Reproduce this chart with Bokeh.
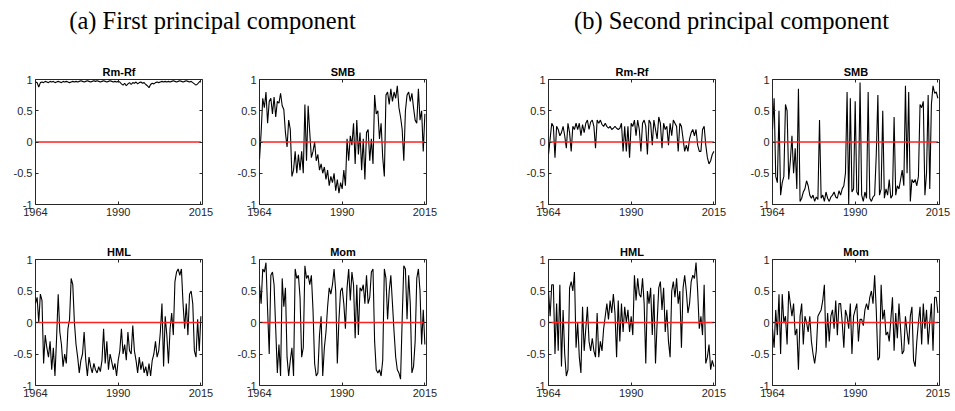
import numpy as np
from bokeh.plotting import figure
from bokeh.layouts import row, column
from bokeh.models import FixedTicker, LinearAxis, Range1d
from bokeh.embed import file_html
from bokeh.resources import INLINE
from bokeh.core.properties import value

# ---------------------------------------------------------------------------
# Factor loadings of the first two principal components, half-yearly samples
# from 1964 to 2015.
# ---------------------------------------------------------------------------
start_year = 1964.0
step_years = 0.5

factor_names = ["Rm-Rf", "SMB", "HML", "Mom"]
headings = ["(a) First principal component", "(b) Second principal component"]
x_tick_labels = ["1964", "1990", "2015"]
y_ticks = [-1, -0.5, 0, 0.5, 1]
y_tick_labels = ["-1", "-0.5", "0", "0.5", "1"]

pc1_rmrf = [
    0.96, 0.95, 0.88, 0.95, 0.96, 0.95, 0.97, 0.96, 0.95, 0.97,
    0.96, 0.97, 0.95, 0.96, 0.97, 0.96, 0.95, 0.97, 0.96, 0.97,
    0.96, 0.95, 0.96, 0.97, 0.96, 0.97, 0.96, 0.97, 0.98, 0.97,
    0.96, 0.97, 0.98, 0.97, 0.96, 0.97, 0.98, 0.97, 0.98, 0.97,
    0.96, 0.97, 0.98, 0.97, 0.96, 0.97, 0.98, 0.97, 0.96, 0.97,
    0.96, 0.97, 0.96, 0.93, 0.91, 0.94, 0.90, 0.93, 0.95, 0.92,
    0.95, 0.94, 0.96, 0.93, 0.95, 0.96, 0.94, 0.95, 0.92, 0.90,
    0.87, 0.92, 0.94, 0.93, 0.95, 0.96, 0.95, 0.96, 0.97, 0.96,
    0.97, 0.96, 0.97, 0.96, 0.97, 0.98, 0.97, 0.96, 0.97, 0.98,
    0.97, 0.96, 0.97, 0.98, 0.97, 0.96, 0.97, 0.95, 0.93, 0.91,
    0.93, 0.96, 0.98,
]

pc1_smb = [
    -0.28, 0.15, 0.70, 0.55, 0.80, 0.30, 0.65, 0.70, 0.45, 0.72,
    0.40, 0.65, 0.62, 0.78, 0.58, 0.52, 0.15, -0.08, 0.35, 0.20,
    -0.55, -0.45, -0.15, -0.50, -0.20, -0.45, -0.15, -0.50, 0.60, -0.30,
    0.58, 0.15, -0.25, -0.15, 0.00, -0.30, -0.20, -0.45, -0.35, -0.50,
    -0.40, -0.60, -0.45, -0.70, -0.55, -0.65, -0.50, -0.78, -0.60, -0.82,
    -0.65, -0.75, -0.45, -0.70, 0.05, -0.30, 0.10, -0.05, 0.30, -0.35,
    0.35, -0.20, 0.15, -0.45, 0.05, -0.60, 0.15, 0.20, -0.30, 0.05,
    -0.35, 0.75, 0.45, 0.50, 0.05, 0.30, -0.25, -0.55, 0.75, 0.80,
    0.60, 0.85, 0.65, 0.80, 0.70, 0.90, 0.55, 0.40, 0.20, -0.30,
    0.50, 0.75, 0.80, 0.65, 0.78, 0.55, 0.35, 0.30, 0.85, 0.35,
    0.50, -0.15, 0.45,
]

pc1_hml = [
    0.30, 0.40, 0.00, 0.45, 0.35, -0.65, -0.20, -0.40, -0.55, -0.30,
    -0.75, -0.40, -0.85, -0.25, 0.45, -0.15, -0.35, -0.70, -0.50, -0.65,
    -0.10, 0.05, 0.70, 0.60, 0.00, -0.35, -0.55, -0.80, -0.60, -0.50,
    -0.15, -0.60, -0.85, -0.55, -0.70, -0.80, -0.65, -0.75, -0.80, -0.70,
    -0.78, -0.60, -0.10, -0.65, -0.30, -0.75, -0.50, -0.62, -0.75, -0.65,
    -0.85, -0.60, -0.45, -0.10, -0.50, -0.35, -0.60, -0.15, -0.45, -0.50,
    -0.05, -0.45, -0.60, -0.80, -0.55, -0.75, -0.62, -0.80, -0.70, -0.85,
    -0.65, -0.85, -0.60, -0.50, -0.30, -0.55, -0.45, -0.15, 0.30, -0.70,
    0.10, -0.20, -0.65, -0.10, 0.15, -0.20, 0.65, 0.80, 0.85, 0.75,
    0.85, 0.30, -0.10, 0.30, -0.20, 0.45, 0.50, 0.30, -0.45, -0.55,
    0.05, -0.45, 0.10,
]

pc1_mom = [
    0.60, 0.30, 0.85, 0.80, 0.95, 0.20, -0.50, 0.75, 0.80, 0.60,
    -0.10, -0.80, -0.35, -0.85, 0.70, 0.25, 0.55, -0.55, -0.85, -0.60,
    -0.40, -0.85, 0.85, 0.70, 0.75, 0.40, -0.55, -0.40, 0.90, 0.70,
    0.75, 0.60, 0.75, 0.20, -0.65, -0.85, -0.80, -0.20, 0.10, -0.85,
    -0.40, -0.15, 0.25, 0.55, 0.45, 0.60, 0.85, 0.50, -0.65, 0.05,
    0.50, 0.55, 0.30, -0.10, 0.55, 0.85, 0.35, 0.80, 0.60, -0.25,
    0.60, -0.20, 0.55, 0.50, 0.60, 0.30, 0.75, 0.30, 0.40, 0.80,
    0.85, -0.30, -0.75, -0.80, -0.75, -0.85, -0.60, 0.85, 0.70, 0.05,
    0.50, 0.75, 0.30, -0.15, -0.55, -0.75, -0.80, -0.90, 0.05, 0.90,
    0.85, 0.05, 0.75, 0.30, -0.80, -0.70, -0.30, 0.70, 0.85, 0.50,
    -0.35, 0.20, -0.35,
]

pc2_rmrf = [
    -0.20, 0.05, 0.30, 0.25, -0.25, 0.25, 0.20, 0.10, 0.15, 0.25,
    0.10, -0.10, 0.30, 0.15, -0.15, 0.25, 0.20, 0.30, 0.20, 0.30,
    0.10, 0.28, 0.15, 0.30, 0.35, 0.20, 0.32, 0.35, 0.25, -0.10,
    0.35, 0.30, 0.35, 0.28, 0.25, 0.30, 0.25, 0.22, 0.25, 0.20,
    0.22, 0.25, 0.22, 0.20, 0.22, 0.30, -0.15, 0.25, -0.15, 0.25,
    -0.25, 0.30, 0.25, 0.35, 0.10, 0.35, 0.20, -0.15, 0.30, 0.35,
    0.25, -0.20, 0.35, 0.30, -0.05, 0.35, 0.20, 0.05, 0.40, 0.30,
    -0.10, 0.30, 0.20, 0.25, -0.05, 0.30, 0.10, 0.35, 0.30, 0.25,
    -0.15, 0.30, 0.25, 0.05, -0.15, -0.05, -0.15, 0.05, 0.15, 0.20,
    0.10, 0.20, -0.05, -0.15, -0.15, 0.20, 0.25, -0.05, -0.25, -0.35,
    -0.30, -0.20, -0.15,
]

pc2_smb = [
    0.20, 0.70, -0.55, -0.65, 0.50, -0.85, -0.65, -0.55, 0.60, 0.50,
    -0.60, -0.30, 0.10, -0.50, -0.10, -0.75, 0.85, -0.95, -0.90, -0.80,
    -0.75, -0.62, -0.70, -0.85, -0.90, -0.85, -0.95, -0.88, -0.92, 0.35,
    -0.90, -0.85, -0.95, -0.80, -0.90, -0.95, -0.88, -0.85, -0.80, -0.88,
    -0.90, -0.78, -0.85, -0.75, -0.70, -0.50, 0.80, -1.00, 0.70, -0.80,
    -0.75, 0.65, -0.80, -0.85, 0.95, -0.85, -0.95, -0.80, -0.90, 0.80,
    -0.90, -0.95, -0.88, -0.85, -0.20, 0.75, -0.85, -0.75, 0.50, -0.90,
    -0.75, -0.85, -0.60, -0.90, -0.85, 0.40, -0.85, -0.70, -0.75, -0.60,
    -0.45, -0.70, 0.90, -0.50, 0.80, -0.95, -0.60, -0.65, -0.60, -0.70,
    -0.55, 0.60, 0.55, 0.65, -0.85, -0.50, 0.75, -0.75, 0.60, 0.90,
    0.78, 0.80, 0.70,
]

pc2_hml = [
    0.50, 0.10, 0.60, 0.60, -0.50, 0.30, -0.45, 0.60, -0.70, 0.20,
    -0.50, -0.85, -0.75, 0.55, 0.65, 0.50, 0.80, -0.40, 0.00, -0.55,
    -0.80, 0.25, -0.45, -0.10, 0.25, -0.30, -0.45, -0.25, -0.45, -0.55,
    0.15, -0.55, -0.30, -0.45, -0.10, 0.10, 0.30, 0.05, 0.35, 0.15,
    0.45, 0.15, -0.55, 0.35, -0.30, 0.30, -0.15, 0.25, 0.00, 0.20,
    -0.15, 0.10, -0.20, 0.75, 0.35, 0.70, 0.45, 0.40, 0.70, 0.30,
    -0.65, 0.50, 0.30, 0.55, -0.20, 0.45, -0.65, 0.00, 0.55, 0.65,
    0.20, 0.55, -0.15, 0.20, -0.30, -0.55, 0.50, 0.65, 0.40, 0.70,
    0.30, 0.50, -0.40, 0.55, 0.75, 0.50, 0.15, 0.30, 0.65, 0.75,
    0.70, 0.95, 0.50, -0.10, 0.10, -0.20, 0.60, -0.65, -0.55, -0.35,
    -0.75, -0.60, -0.70,
]

pc2_mom = [
    -0.10, -0.40, 0.20, -0.20, 0.45, -0.50, 0.45, 0.00, 0.10, -0.35,
    0.50, 0.30, 0.10, 0.30, -0.20, -0.10, -0.75, 0.10, 0.30, -0.35,
    0.10, 0.00, -0.15, 0.10, -0.30, -0.50, -0.65, -0.45, 0.10, 0.15,
    0.20, 0.35, 0.60, -0.40, 0.15, -0.30, 0.10, 0.20, -0.10, 0.35,
    -0.20, 0.30, 0.30, 0.00, -0.40, 0.20, 0.10, -0.10, 0.30, -0.50,
    0.10, 0.20, 0.30, -0.30, 0.05, 0.05, -0.05, 0.20, 0.30, 0.20,
    0.40, 0.50, 0.30, 0.75, 0.20, -0.60, -0.55, 0.60, 0.05, 0.20,
    -0.20, -0.15, -0.30, 0.05, 0.40, -0.45, 0.15, -0.25, 0.30, -0.10,
    -0.50, -0.45, 0.10, -0.15, -0.35, 0.10, 0.25, -0.60, -0.70, -0.30,
    0.00, 0.25, -0.35, 0.30, -0.10, 0.20, -0.35, 0.00, 0.30, -0.45,
    0.40, 0.40, 0.15,
]

groups = [
    [pc1_rmrf, pc1_smb, pc1_hml, pc1_mom],
    [pc2_rmrf, pc2_smb, pc2_hml, pc2_mom],
]

n_obs = len(pc1_rmrf)
dates = start_year + step_years * np.arange(n_obs)
x_ticks = [float(dates[0]), float(dates[(n_obs - 1) // 2]), float(dates[-1])]

# Page geometry: four columns of panels, two rows.
col_border_left = [35, 35, 68, 36]
col_border_right = [22, 54, 21, 16]
frame_w = 167
row_frame_h = [125, 126]
border_top = 29
border_bottom = 26

AX_COLOR = "#262626"
SANS = "Liberation Sans"


def style_axis(ax, ticks, labels=None):
    ax.ticker = FixedTicker(ticks=ticks)
    ax.axis_line_color = None
    ax.major_tick_line_color = AX_COLOR
    ax.major_tick_in = 3
    ax.major_tick_out = 0
    ax.minor_tick_line_color = None
    if labels is None:
        # tick marks only: labels are not painted
        ax.major_label_text_color = None
        ax.major_label_text_font_size = "1px"
        ax.major_label_standoff = 0
    else:
        ax.major_label_overrides = dict(zip(ticks, labels))
        ax.major_label_text_font = SANS
        ax.major_label_text_font_size = "11px"
        ax.major_label_text_color = AX_COLOR
        ax.major_label_standoff = 3


def make_panel(values, title, col, r):
    w = col_border_left[col] + frame_w + col_border_right[col]
    h = border_top + row_frame_h[r] + border_bottom
    p = figure(
        width=w, height=h,
        x_range=Range1d(dates[0], dates[-1] + 0.5),
        y_range=Range1d(-1, 1),
        output_backend="svg", toolbar_location=None,
        min_border_left=col_border_left[col],
        min_border_right=col_border_right[col],
        min_border_top=border_top,
        min_border_bottom=border_bottom,
    )
    p.grid.visible = False
    p.outline_line_color = AX_COLOR
    p.outline_line_width = 1
    p.background_fill_color = "white"
    p.border_fill_color = "white"

    style_axis(p.xaxis[0], x_ticks, x_tick_labels)
    style_axis(p.yaxis[0], y_ticks, y_tick_labels)
    top_ax = LinearAxis()
    style_axis(top_ax, x_ticks)
    p.add_layout(top_ax, "above")
    right_ax = LinearAxis()
    style_axis(right_ax, y_ticks)
    p.add_layout(right_ax, "right")

    p.title.text = title
    p.title.text_font = SANS
    p.title.text_font_style = "bold"
    p.title.text_font_size = "11px"
    p.title.text_color = "black"
    p.title.align = "center"
    p.title.standoff = 4

    p.line(dates, values, line_color="black", line_width=1.1)
    p.line(dates, np.zeros(n_obs), line_color="#ff2020", line_width=1.6)
    return p


# Heading strip with the two sub-captions
header = figure(
    width=955, height=50, x_range=Range1d(0, 955), y_range=Range1d(0, 50),
    output_backend="svg", toolbar_location=None,
    min_border=0,
)
header.axis.visible = False
header.grid.visible = False
header.outline_line_color = None
header.text(
    x=[212, 731], y=[30, 30], text=headings,
    text_font=value("Liberation Serif"), text_font_size="24.5px",
    text_align="center", text_baseline="middle", text_color="black",
)

rows = []
for r in range(2):
    panels = []
    for g in range(2):
        for c in range(2):
            idx = 2 * r + c
            col = 2 * g + c
            panels.append(make_panel(groups[g][idx], factor_names[idx], col, r))
    rows.append(row(*panels))

layout = column(header, *rows)

open("out.html", "w").write(file_html(layout, INLINE))
